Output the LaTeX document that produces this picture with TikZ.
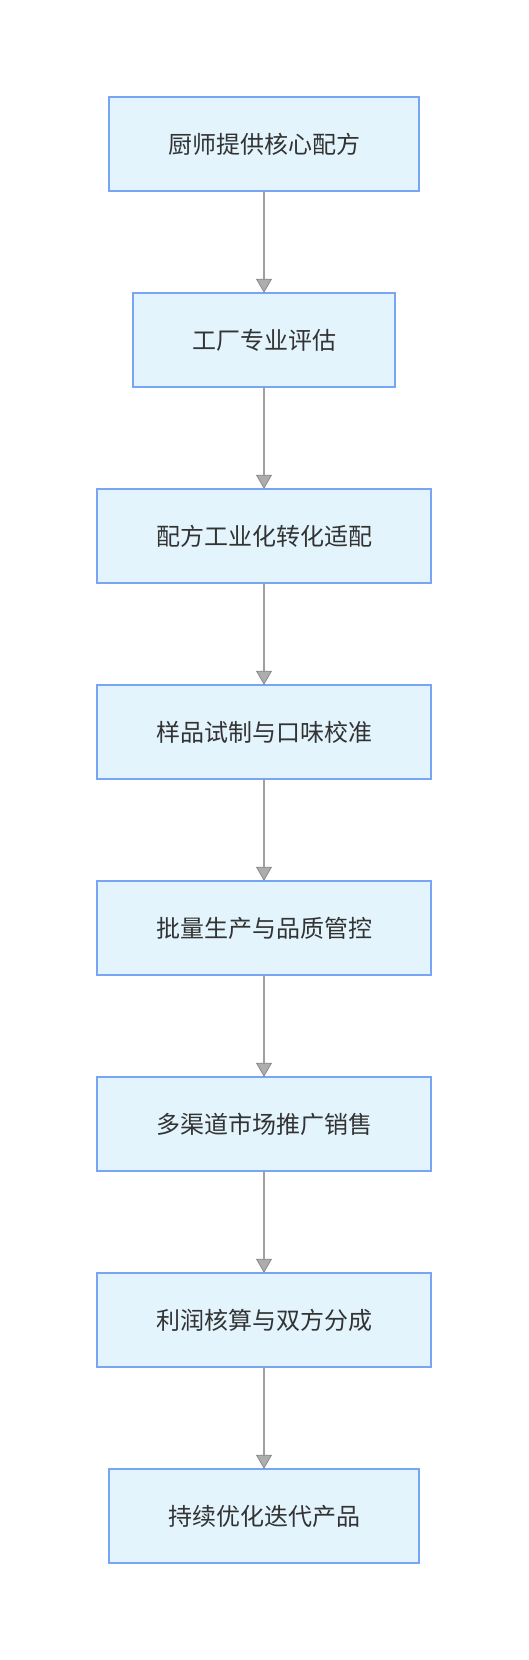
\documentclass[tikz,border=0pt]{standalone}
\usepackage{fontspec}
\setmainfont{Noto Sans CJK SC}
\usetikzlibrary{arrows.meta,positioning}
\definecolor{boxfill}{HTML}{E3F4FD}
\definecolor{boxline}{HTML}{78A6F7}
\definecolor{linkgray}{HTML}{A0A0A0}
\definecolor{tipgray}{HTML}{ADADAD}
\definecolor{tipedge}{HTML}{8A8A8A}
\definecolor{txtgray}{HTML}{333333}
\begin{document}
\begin{tikzpicture}[x=1pt,y=1pt,every node/.style={font=\fontsize{24}{28}\selectfont,text=txtgray},
  stepbox/.style={draw=boxline,line width=1.6pt,fill=boxfill,minimum height=94.4pt,inner xsep=59.2pt,inner ysep=0pt,outer sep=0pt},
  link/.style={draw=linkgray,line width=2pt,-{Triangle[length=14pt,width=16pt,fill=tipgray,color=tipedge,line width=0.8pt]}}]
\useasboundingbox (0,0) rectangle (528,-1660);
\node[stepbox] (chef) at (264,-144) {厨师提供核心配方};
\node[stepbox,below=101.6pt of chef] (eval) {工厂专业评估};
\node[stepbox,below=101.6pt of eval] (adapt) {配方工业化转化适配};
\node[stepbox,below=101.6pt of adapt] (sample) {样品试制与口味校准};
\node[stepbox,below=101.6pt of sample] (mass) {批量生产与品质管控};
\node[stepbox,below=101.6pt of mass] (market) {多渠道市场推广销售};
\node[stepbox,below=101.6pt of market] (profit) {利润核算与双方分成};
\node[stepbox,below=101.6pt of profit] (iter) {持续优化迭代产品};
\draw[link] (chef) -- (eval);
\draw[link] (eval) -- (adapt);
\draw[link] (adapt) -- (sample);
\draw[link] (sample) -- (mass);
\draw[link] (mass) -- (market);
\draw[link] (market) -- (profit);
\draw[link] (profit) -- (iter);
\end{tikzpicture}
\end{document}
